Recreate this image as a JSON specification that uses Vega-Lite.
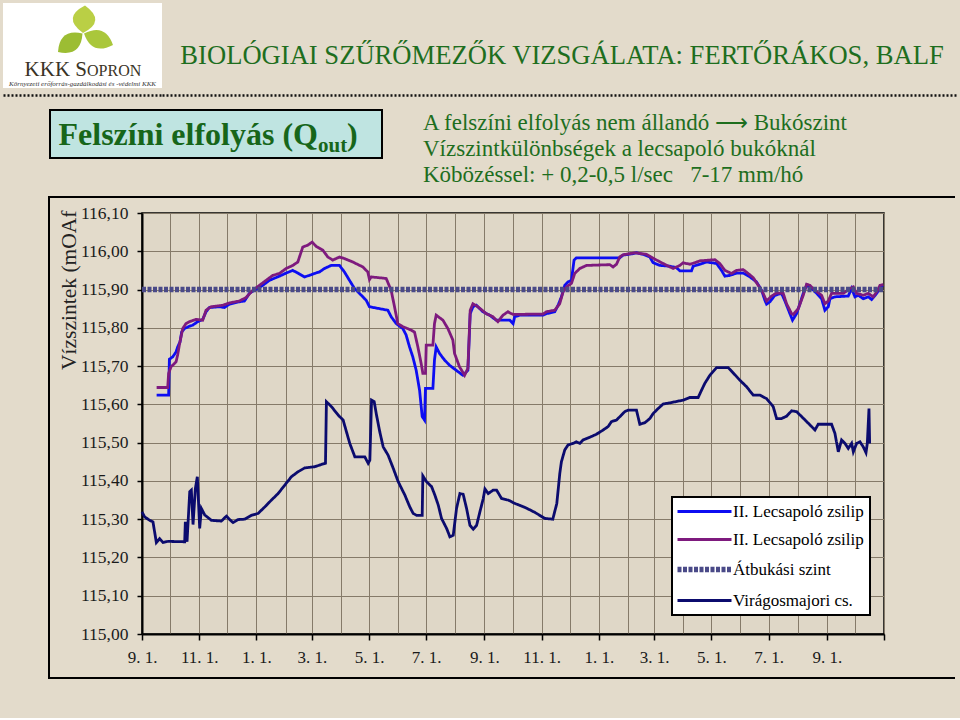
{
"$schema": "https://vega.github.io/schema/vega-lite/v6.json",
"background": "#E3DBCB",
"padding": {"left": 3, "top": 3, "right": 2, "bottom": 0},
"config": {"view": {"stroke": null}, "font": "Liberation Serif", "concat": {"spacing": 0}},
"spacing": 0,
"vconcat": [
 {"hconcat": [
  {"width": 159, "height": 85, "view": {"fill": "#FFFFFF", "stroke": null},
   "data": {"values": [{"kkk": "KKK S", "sopron": "OPRON", "alcim": "Környezeti erőforrás-gazdálkodási és -védelmi KKK"}]},
   "layer": [
    {"mark": {"type": "point", "shape": "M0.01,-0.25 Q0.48,-0.49 0.05,-0.80 Q-0.42,-0.56 0.01,-0.25 Z", "size": 10000, "filled": true, "color": "#BACF45", "opacity": 1, "strokeWidth": 0}},
    {"mark": {"type": "point", "shape": "M0,-0.24 Q-0.029,0.233 -0.49,0.13 Q-0.461,-0.343 0,-0.24 Z", "size": 10000, "filled": true, "color": "#9CBD33", "opacity": 1, "strokeWidth": 0}},
    {"mark": {"type": "point", "shape": "M0.03,-0.24 Q0.187,0.21 0.61,-0.01 Q0.453,-0.46 0.03,-0.24 Z", "size": 10000, "filled": true, "color": "#AAC73B", "opacity": 1, "strokeWidth": 0}},
    {"mark": {"type": "text", "align": "right", "baseline": "alphabetic", "fontSize": 21, "color": "#3A3326", "dx": 4.5, "dy": 30.5}, "encoding": {"text": {"field": "kkk"}}},
    {"mark": {"type": "text", "align": "left", "baseline": "alphabetic", "fontSize": 16, "color": "#3A3326", "dx": 4.5, "dy": 30.5}, "encoding": {"text": {"field": "sopron"}}},
    {"mark": {"type": "text", "align": "center", "baseline": "alphabetic", "fontSize": 7, "fontStyle": "italic", "color": "#333333", "dy": 40}, "encoding": {"text": {"field": "alcim"}}},
    {"data": {"values": [{"a": 0}, {"a": 1}]},
     "mark": {"type": "point", "opacity": 0, "size": 0, "strokeWidth": 0},
     "encoding": {"x": {"field": "a", "type": "quantitative", "scale": {"domain": [0, 1]},
                        "axis": {"labels": false, "ticks": false, "grid": false, "title": null, "domain": true, "domainDash": [2, 2], "domainColor": "#111111", "domainWidth": 2.5, "domainOpacity": 1, "offset": 7}}}}
   ]},
  {"width": 796, "height": 85,
   "layer": [
    {"data": {"values": [{"cim": "BIOLÓGIAI SZŰRŐMEZŐK VIZSGÁLATA: FERTŐRÁKOS, BALF"}]},
     "mark": {"type": "text", "fontSize": 26.6, "color": "#1E6E1E", "baseline": "alphabetic", "dx": 2, "dy": 18},
     "encoding": {"text": {"field": "cim"}}},
    {"data": {"values": [{"a": 0}, {"a": 1}]},
     "mark": {"type": "point", "opacity": 0, "size": 0, "strokeWidth": 0},
     "encoding": {"x": {"field": "a", "type": "quantitative", "scale": {"domain": [0, 1]},
                        "axis": {"labels": false, "ticks": false, "grid": false, "title": null, "domain": true, "domainDash": [2, 2], "domainColor": "#111111", "domainWidth": 2.5, "domainOpacity": 1, "offset": 7}}}}
   ]}
 ], "spacing": 0, "bounds": "flush"},
 {"width": 1, "height": 14, "data": {"values": [{}]}, "mark": {"type": "point", "opacity": 0, "size": 0, "strokeWidth": 0}},
 {"hconcat": [
  {"width": 47, "height": 1, "data": {"values": [{}]}, "mark": {"type": "point", "opacity": 0, "size": 0, "strokeWidth": 0}},
  {"width": 332, "height": 48, "view": {"fill": "#BFE4E1", "stroke": "#000000", "strokeWidth": 2},
   "data": {"values": [{"fo": "Felszíni elfolyás (Q", "al": "out", "zar": ")"}]},
   "layer": [
    {"mark": {"type": "text", "align": "right", "baseline": "alphabetic", "fontSize": 32, "fontWeight": "bold", "color": "#17661A", "dx": 102, "dy": 11}, "encoding": {"text": {"field": "fo"}}},
    {"mark": {"type": "text", "align": "left", "baseline": "alphabetic", "fontSize": 21, "fontWeight": "bold", "color": "#17661A", "dx": 102, "dy": 18}, "encoding": {"text": {"field": "al"}}},
    {"mark": {"type": "text", "align": "left", "baseline": "alphabetic", "fontSize": 32, "fontWeight": "bold", "color": "#17661A", "dx": 131, "dy": 11}, "encoding": {"text": {"field": "zar"}}}
   ]},
  {"width": 40, "height": 1, "data": {"values": [{}]}, "mark": {"type": "point", "opacity": 0, "size": 0, "strokeWidth": 0}},
  {"width": 2, "height": 86,
   "data": {"values": [
    {"sor": 1, "szoveg": "A felszíni elfolyás nem állandó ⟶ Bukószint"},
    {"sor": 2, "szoveg": "Vízszintkülönbségek a lecsapoló bukóknál"},
    {"sor": 3, "szoveg": "Köbözéssel: + 0,2-0,5 l/sec\u00a0\u00a0\u00a07-17 mm/hó"}]},
   "mark": {"type": "text", "align": "left", "baseline": "alphabetic", "fontSize": 23, "color": "#1E6E1E", "dy": 7},
   "encoding": {"y": {"field": "sor", "type": "ordinal", "axis": null, "scale": {"type": "point", "range": [13, 65], "padding": 0}}, "text": {"field": "szoveg"}}}
 ], "spacing": 0, "bounds": "flush"},
 {"hconcat": [
  {"width": 45, "height": 1, "data": {"values": [{}]}, "mark": {"type": "point", "opacity": 0, "size": 0, "strokeWidth": 0}},
  {"vconcat": [
   {"width": 907, "height": 2, "view": {"fill": "#000000", "stroke": null}, "data": {"values": [{}]}, "mark": {"type": "point", "opacity": 0, "size": 0, "strokeWidth": 0}},
   {"hconcat": [
    {"width": 2, "height": 479, "view": {"fill": "#000000", "stroke": null}, "data": {"values": [{}]}, "mark": {"type": "point", "opacity": 0, "size": 0, "strokeWidth": 0}},
    {"width": 7, "height": 1, "data": {"values": [{}]}, "mark": {"type": "point", "opacity": 0, "size": 0, "strokeWidth": 0}},
    {"vconcat": [
     {"width": 1, "height": 15, "data": {"values": [{}]}, "mark": {"type": "point", "opacity": 0, "size": 0, "strokeWidth": 0}},
     {"width": 742, "height": 421,
      "view": {"fill": "#DFD7C7", "stroke": "#000000", "strokeWidth": 1.5},
      "layer": [
       {"data": {"values": [
{"sorozat":"II. Lecsapoló zsilip","nap":15.6,"szint":115.624},{"sorozat":"II. Lecsapoló zsilip","nap":28.4,"szint":115.624},{"sorozat":"II. Lecsapoló zsilip","nap":29.2,"szint":115.718},{"sorozat":"II. Lecsapoló zsilip","nap":32.7,"szint":115.724},{"sorozat":"II. Lecsapoló zsilip","nap":36.3,"szint":115.737},{"sorozat":"II. Lecsapoló zsilip","nap":38.0,"szint":115.750},{"sorozat":"II. Lecsapoló zsilip","nap":40.5,"szint":115.763},{"sorozat":"II. Lecsapoló zsilip","nap":42.3,"szint":115.789},{"sorozat":"II. Lecsapoló zsilip","nap":45.2,"szint":115.798},{"sorozat":"II. Lecsapoló zsilip","nap":50.5,"szint":115.804},{"sorozat":"II. Lecsapoló zsilip","nap":54.1,"szint":115.807},{"sorozat":"II. Lecsapoló zsilip","nap":59.4,"szint":115.816},{"sorozat":"II. Lecsapoló zsilip","nap":64.7,"szint":115.822},{"sorozat":"II. Lecsapoló zsilip","nap":68.3,"szint":115.842},{"sorozat":"II. Lecsapoló zsilip","nap":71.8,"szint":115.853},{"sorozat":"II. Lecsapoló zsilip","nap":82.5,"szint":115.855},{"sorozat":"II. Lecsapoló zsilip","nap":87.8,"szint":115.853},{"sorozat":"II. Lecsapoló zsilip","nap":93.2,"szint":115.862},{"sorozat":"II. Lecsapoló zsilip","nap":103.8,"szint":115.868},{"sorozat":"II. Lecsapoló zsilip","nap":109.2,"szint":115.870},{"sorozat":"II. Lecsapoló zsilip","nap":114.5,"szint":115.890},{"sorozat":"II. Lecsapoló zsilip","nap":119.8,"szint":115.898},{"sorozat":"II. Lecsapoló zsilip","nap":128.7,"szint":115.911},{"sorozat":"II. Lecsapoló zsilip","nap":135.8,"szint":115.924},{"sorozat":"II. Lecsapoló zsilip","nap":146.5,"szint":115.935},{"sorozat":"II. Lecsapoló zsilip","nap":153.6,"szint":115.943},{"sorozat":"II. Lecsapoló zsilip","nap":160.7,"szint":115.950},{"sorozat":"II. Lecsapoló zsilip","nap":166.1,"szint":115.943},{"sorozat":"II. Lecsapoló zsilip","nap":173.2,"szint":115.933},{"sorozat":"II. Lecsapoló zsilip","nap":178.5,"szint":115.937},{"sorozat":"II. Lecsapoló zsilip","nap":183.8,"szint":115.942},{"sorozat":"II. Lecsapoló zsilip","nap":189.2,"szint":115.946},{"sorozat":"II. Lecsapoló zsilip","nap":194.5,"szint":115.955},{"sorozat":"II. Lecsapoló zsilip","nap":198.1,"szint":115.959},{"sorozat":"II. Lecsapoló zsilip","nap":201.6,"szint":115.963},{"sorozat":"II. Lecsapoló zsilip","nap":210.5,"szint":115.963},{"sorozat":"II. Lecsapoló zsilip","nap":215.8,"szint":115.946},{"sorozat":"II. Lecsapoló zsilip","nap":221.2,"szint":115.924},{"sorozat":"II. Lecsapoló zsilip","nap":226.5,"szint":115.903},{"sorozat":"II. Lecsapoló zsilip","nap":231.8,"szint":115.890},{"sorozat":"II. Lecsapoló zsilip","nap":239.0,"szint":115.872},{"sorozat":"II. Lecsapoló zsilip","nap":242.5,"szint":115.855},{"sorozat":"II. Lecsapoló zsilip","nap":253.2,"szint":115.850},{"sorozat":"II. Lecsapoló zsilip","nap":262.1,"szint":115.846},{"sorozat":"II. Lecsapoló zsilip","nap":265.6,"szint":115.829},{"sorozat":"II. Lecsapoló zsilip","nap":271.0,"szint":115.811},{"sorozat":"II. Lecsapoló zsilip","nap":278.1,"szint":115.798},{"sorozat":"II. Lecsapoló zsilip","nap":281.6,"szint":115.781},{"sorozat":"II. Lecsapoló zsilip","nap":285.2,"szint":115.750},{"sorozat":"II. Lecsapoló zsilip","nap":288.7,"szint":115.724},{"sorozat":"II. Lecsapoló zsilip","nap":292.3,"szint":115.689},{"sorozat":"II. Lecsapoló zsilip","nap":295.9,"szint":115.637},{"sorozat":"II. Lecsapoló zsilip","nap":298.7,"szint":115.568},{"sorozat":"II. Lecsapoló zsilip","nap":301.2,"szint":115.559},{"sorozat":"II. Lecsapoló zsilip","nap":302.2,"szint":115.642},{"sorozat":"II. Lecsapoló zsilip","nap":310.1,"szint":115.642},{"sorozat":"II. Lecsapoló zsilip","nap":311.8,"szint":115.716},{"sorozat":"II. Lecsapoló zsilip","nap":313.6,"szint":115.750},{"sorozat":"II. Lecsapoló zsilip","nap":317.2,"szint":115.733},{"sorozat":"II. Lecsapoló zsilip","nap":322.5,"szint":115.716},{"sorozat":"II. Lecsapoló zsilip","nap":327.9,"szint":115.702},{"sorozat":"II. Lecsapoló zsilip","nap":335.0,"szint":115.689},{"sorozat":"II. Lecsapoló zsilip","nap":342.1,"szint":115.676},{"sorozat":"II. Lecsapoló zsilip","nap":347.4,"szint":115.689},{"sorozat":"II. Lecsapoló zsilip","nap":349.9,"szint":115.837},{"sorozat":"II. Lecsapoló zsilip","nap":352.8,"szint":115.855},{"sorozat":"II. Lecsapoló zsilip","nap":356.3,"szint":115.859},{"sorozat":"II. Lecsapoló zsilip","nap":363.4,"szint":115.842},{"sorozat":"II. Lecsapoló zsilip","nap":370.5,"szint":115.833},{"sorozat":"II. Lecsapoló zsilip","nap":377.6,"szint":115.820},{"sorozat":"II. Lecsapoló zsilip","nap":388.3,"szint":115.820},{"sorozat":"II. Lecsapoló zsilip","nap":392.0,"szint":115.820},{"sorozat":"II. Lecsapoló zsilip","nap":395.6,"szint":115.811},{"sorozat":"II. Lecsapoló zsilip","nap":397.3,"szint":115.829},{"sorozat":"II. Lecsapoló zsilip","nap":402.7,"szint":115.833},{"sorozat":"II. Lecsapoló zsilip","nap":427.6,"szint":115.833},{"sorozat":"II. Lecsapoló zsilip","nap":431.1,"szint":115.837},{"sorozat":"II. Lecsapoló zsilip","nap":440.0,"szint":115.842},{"sorozat":"II. Lecsapoló zsilip","nap":443.6,"szint":115.859},{"sorozat":"II. Lecsapoló zsilip","nap":447.1,"szint":115.881},{"sorozat":"II. Lecsapoló zsilip","nap":450.7,"szint":115.911},{"sorozat":"II. Lecsapoló zsilip","nap":454.2,"szint":115.920},{"sorozat":"II. Lecsapoló zsilip","nap":457.8,"szint":115.924},{"sorozat":"II. Lecsapoló zsilip","nap":460.6,"szint":115.977},{"sorozat":"II. Lecsapoló zsilip","nap":463.1,"szint":115.983},{"sorozat":"II. Lecsapoló zsilip","nap":509.3,"szint":115.983},{"sorozat":"II. Lecsapoló zsilip","nap":512.9,"szint":115.990},{"sorozat":"II. Lecsapoló zsilip","nap":523.6,"szint":115.994},{"sorozat":"II. Lecsapoló zsilip","nap":527.1,"szint":115.996},{"sorozat":"II. Lecsapoló zsilip","nap":534.2,"szint":115.992},{"sorozat":"II. Lecsapoló zsilip","nap":541.4,"szint":115.985},{"sorozat":"II. Lecsapoló zsilip","nap":544.9,"szint":115.970},{"sorozat":"II. Lecsapoló zsilip","nap":552.0,"szint":115.963},{"sorozat":"II. Lecsapoló zsilip","nap":562.7,"szint":115.961},{"sorozat":"II. Lecsapoló zsilip","nap":569.8,"szint":115.957},{"sorozat":"II. Lecsapoló zsilip","nap":573.4,"szint":115.949},{"sorozat":"II. Lecsapoló zsilip","nap":585.8,"szint":115.949},{"sorozat":"II. Lecsapoló zsilip","nap":587.6,"szint":115.961},{"sorozat":"II. Lecsapoló zsilip","nap":594.7,"szint":115.966},{"sorozat":"II. Lecsapoló zsilip","nap":601.8,"szint":115.972},{"sorozat":"II. Lecsapoló zsilip","nap":612.5,"szint":115.968},{"sorozat":"II. Lecsapoló zsilip","nap":617.8,"szint":115.950},{"sorozat":"II. Lecsapoló zsilip","nap":621.4,"szint":115.935},{"sorozat":"II. Lecsapoló zsilip","nap":626.7,"szint":115.937},{"sorozat":"II. Lecsapoló zsilip","nap":633.8,"szint":115.943},{"sorozat":"II. Lecsapoló zsilip","nap":640.9,"szint":115.943},{"sorozat":"II. Lecsapoló zsilip","nap":648.0,"szint":115.933},{"sorozat":"II. Lecsapoló zsilip","nap":655.1,"szint":115.920},{"sorozat":"II. Lecsapoló zsilip","nap":660.5,"szint":115.898},{"sorozat":"II. Lecsapoló zsilip","nap":664.0,"szint":115.872},{"sorozat":"II. Lecsapoló zsilip","nap":665.8,"szint":115.862},{"sorozat":"II. Lecsapoló zsilip","nap":669.4,"szint":115.868},{"sorozat":"II. Lecsapoló zsilip","nap":674.7,"szint":115.885},{"sorozat":"II. Lecsapoló zsilip","nap":681.8,"szint":115.890},{"sorozat":"II. Lecsapoló zsilip","nap":685.4,"szint":115.870},{"sorozat":"II. Lecsapoló zsilip","nap":690.7,"szint":115.837},{"sorozat":"II. Lecsapoló zsilip","nap":693.5,"szint":115.820},{"sorozat":"II. Lecsapoló zsilip","nap":697.8,"szint":115.837},{"sorozat":"II. Lecsapoló zsilip","nap":701.4,"szint":115.863},{"sorozat":"II. Lecsapoló zsilip","nap":704.9,"szint":115.890},{"sorozat":"II. Lecsapoló zsilip","nap":708.5,"szint":115.911},{"sorozat":"II. Lecsapoló zsilip","nap":713.8,"szint":115.903},{"sorozat":"II. Lecsapoló zsilip","nap":719.2,"szint":115.890},{"sorozat":"II. Lecsapoló zsilip","nap":724.5,"szint":115.876},{"sorozat":"II. Lecsapoló zsilip","nap":728.0,"szint":115.846},{"sorozat":"II. Lecsapoló zsilip","nap":731.6,"szint":115.855},{"sorozat":"II. Lecsapoló zsilip","nap":733.4,"szint":115.876},{"sorozat":"II. Lecsapoló zsilip","nap":738.7,"szint":115.881},{"sorozat":"II. Lecsapoló zsilip","nap":752.9,"szint":115.883},{"sorozat":"II. Lecsapoló zsilip","nap":756.5,"szint":115.903},{"sorozat":"II. Lecsapoló zsilip","nap":760.0,"szint":115.881},{"sorozat":"II. Lecsapoló zsilip","nap":763.6,"szint":115.885},{"sorozat":"II. Lecsapoló zsilip","nap":768.9,"szint":115.876},{"sorozat":"II. Lecsapoló zsilip","nap":774.3,"szint":115.881},{"sorozat":"II. Lecsapoló zsilip","nap":777.8,"szint":115.874},{"sorozat":"II. Lecsapoló zsilip","nap":783.2,"szint":115.890},{"sorozat":"II. Lecsapoló zsilip","nap":786.7,"szint":115.903},{"sorozat":"II. Lecsapoló zsilip","nap":789.5,"szint":115.911},
{"sorozat":"II. Lecsapoló zsilip ","nap":15.6,"szint":115.644},{"sorozat":"II. Lecsapoló zsilip ","nap":27.4,"szint":115.644},{"sorozat":"II. Lecsapoló zsilip ","nap":28.4,"szint":115.681},{"sorozat":"II. Lecsapoló zsilip ","nap":30.9,"szint":115.698},{"sorozat":"II. Lecsapoló zsilip ","nap":36.3,"szint":115.711},{"sorozat":"II. Lecsapoló zsilip ","nap":38.0,"szint":115.729},{"sorozat":"II. Lecsapoló zsilip ","nap":39.8,"szint":115.755},{"sorozat":"II. Lecsapoló zsilip ","nap":43.4,"szint":115.798},{"sorozat":"II. Lecsapoló zsilip ","nap":46.9,"szint":115.811},{"sorozat":"II. Lecsapoló zsilip ","nap":50.5,"szint":115.816},{"sorozat":"II. Lecsapoló zsilip ","nap":57.6,"szint":115.822},{"sorozat":"II. Lecsapoló zsilip ","nap":64.7,"szint":115.820},{"sorozat":"II. Lecsapoló zsilip ","nap":68.3,"szint":115.846},{"sorozat":"II. Lecsapoló zsilip ","nap":73.6,"szint":115.855},{"sorozat":"II. Lecsapoló zsilip ","nap":86.1,"szint":115.859},{"sorozat":"II. Lecsapoló zsilip ","nap":93.2,"szint":115.865},{"sorozat":"II. Lecsapoló zsilip ","nap":103.8,"szint":115.870},{"sorozat":"II. Lecsapoló zsilip ","nap":110.9,"szint":115.879},{"sorozat":"II. Lecsapoló zsilip ","nap":118.1,"szint":115.898},{"sorozat":"II. Lecsapoló zsilip ","nap":125.2,"szint":115.911},{"sorozat":"II. Lecsapoló zsilip ","nap":132.3,"szint":115.924},{"sorozat":"II. Lecsapoló zsilip ","nap":139.4,"szint":115.937},{"sorozat":"II. Lecsapoló zsilip ","nap":146.5,"szint":115.942},{"sorozat":"II. Lecsapoló zsilip ","nap":153.6,"szint":115.955},{"sorozat":"II. Lecsapoló zsilip ","nap":160.7,"szint":115.963},{"sorozat":"II. Lecsapoló zsilip ","nap":166.1,"szint":115.972},{"sorozat":"II. Lecsapoló zsilip ","nap":171.4,"szint":116.011},{"sorozat":"II. Lecsapoló zsilip ","nap":176.7,"szint":116.016},{"sorozat":"II. Lecsapoló zsilip ","nap":181.4,"szint":116.024},{"sorozat":"II. Lecsapoló zsilip ","nap":185.6,"szint":116.013},{"sorozat":"II. Lecsapoló zsilip ","nap":192.7,"szint":116.003},{"sorozat":"II. Lecsapoló zsilip ","nap":198.1,"szint":115.985},{"sorozat":"II. Lecsapoló zsilip ","nap":203.4,"szint":115.977},{"sorozat":"II. Lecsapoló zsilip ","nap":210.5,"szint":115.985},{"sorozat":"II. Lecsapoló zsilip ","nap":215.8,"szint":115.981},{"sorozat":"II. Lecsapoló zsilip ","nap":224.7,"szint":115.972},{"sorozat":"II. Lecsapoló zsilip ","nap":235.4,"szint":115.959},{"sorozat":"II. Lecsapoló zsilip ","nap":240.7,"szint":115.946},{"sorozat":"II. Lecsapoló zsilip ","nap":242.5,"szint":115.926},{"sorozat":"II. Lecsapoló zsilip ","nap":244.3,"szint":115.933},{"sorozat":"II. Lecsapoló zsilip ","nap":260.3,"szint":115.929},{"sorozat":"II. Lecsapoló zsilip ","nap":265.6,"szint":115.898},{"sorozat":"II. Lecsapoló zsilip ","nap":269.2,"szint":115.855},{"sorozat":"II. Lecsapoló zsilip ","nap":272.7,"szint":115.811},{"sorozat":"II. Lecsapoló zsilip ","nap":278.1,"szint":115.803},{"sorozat":"II. Lecsapoló zsilip ","nap":287.0,"szint":115.794},{"sorozat":"II. Lecsapoló zsilip ","nap":290.5,"szint":115.789},{"sorozat":"II. Lecsapoló zsilip ","nap":294.1,"szint":115.750},{"sorozat":"II. Lecsapoló zsilip ","nap":297.6,"szint":115.707},{"sorozat":"II. Lecsapoló zsilip ","nap":299.4,"szint":115.681},{"sorozat":"II. Lecsapoló zsilip ","nap":302.2,"szint":115.681},{"sorozat":"II. Lecsapoló zsilip ","nap":303.0,"szint":115.755},{"sorozat":"II. Lecsapoló zsilip ","nap":310.1,"szint":115.755},{"sorozat":"II. Lecsapoló zsilip ","nap":311.8,"szint":115.811},{"sorozat":"II. Lecsapoló zsilip ","nap":313.6,"szint":115.833},{"sorozat":"II. Lecsapoló zsilip ","nap":320.8,"szint":115.820},{"sorozat":"II. Lecsapoló zsilip ","nap":326.1,"szint":115.798},{"sorozat":"II. Lecsapoló zsilip ","nap":331.4,"szint":115.768},{"sorozat":"II. Lecsapoló zsilip ","nap":333.2,"szint":115.733},{"sorozat":"II. Lecsapoló zsilip ","nap":338.5,"szint":115.698},{"sorozat":"II. Lecsapoló zsilip ","nap":343.9,"szint":115.676},{"sorozat":"II. Lecsapoló zsilip ","nap":347.4,"szint":115.694},{"sorozat":"II. Lecsapoló zsilip ","nap":349.9,"szint":115.846},{"sorozat":"II. Lecsapoló zsilip ","nap":352.8,"szint":115.863},{"sorozat":"II. Lecsapoló zsilip ","nap":358.1,"szint":115.855},{"sorozat":"II. Lecsapoló zsilip ","nap":367.0,"szint":115.837},{"sorozat":"II. Lecsapoló zsilip ","nap":374.1,"szint":115.829},{"sorozat":"II. Lecsapoló zsilip ","nap":379.4,"szint":115.816},{"sorozat":"II. Lecsapoló zsilip ","nap":384.8,"szint":115.833},{"sorozat":"II. Lecsapoló zsilip ","nap":390.1,"szint":115.842},{"sorozat":"II. Lecsapoló zsilip ","nap":392.0,"szint":115.839},{"sorozat":"II. Lecsapoló zsilip ","nap":395.6,"szint":115.835},{"sorozat":"II. Lecsapoló zsilip ","nap":427.6,"szint":115.836},{"sorozat":"II. Lecsapoló zsilip ","nap":431.1,"szint":115.842},{"sorozat":"II. Lecsapoló zsilip ","nap":440.0,"szint":115.846},{"sorozat":"II. Lecsapoló zsilip ","nap":445.3,"szint":115.863},{"sorozat":"II. Lecsapoló zsilip ","nap":448.9,"szint":115.894},{"sorozat":"II. Lecsapoló zsilip ","nap":452.5,"szint":115.907},{"sorozat":"II. Lecsapoló zsilip ","nap":457.8,"szint":115.916},{"sorozat":"II. Lecsapoló zsilip ","nap":461.3,"szint":115.942},{"sorozat":"II. Lecsapoló zsilip ","nap":466.7,"szint":115.955},{"sorozat":"II. Lecsapoló zsilip ","nap":473.8,"szint":115.963},{"sorozat":"II. Lecsapoló zsilip ","nap":498.7,"szint":115.965},{"sorozat":"II. Lecsapoló zsilip ","nap":502.2,"szint":115.959},{"sorozat":"II. Lecsapoló zsilip ","nap":505.8,"szint":115.966},{"sorozat":"II. Lecsapoló zsilip ","nap":509.3,"szint":115.985},{"sorozat":"II. Lecsapoló zsilip ","nap":512.9,"szint":115.991},{"sorozat":"II. Lecsapoló zsilip ","nap":525.3,"szint":115.996},{"sorozat":"II. Lecsapoló zsilip ","nap":537.8,"szint":115.992},{"sorozat":"II. Lecsapoló zsilip ","nap":541.4,"szint":115.987},{"sorozat":"II. Lecsapoló zsilip ","nap":548.5,"szint":115.977},{"sorozat":"II. Lecsapoló zsilip ","nap":555.6,"szint":115.968},{"sorozat":"II. Lecsapoló zsilip ","nap":566.2,"szint":115.955},{"sorozat":"II. Lecsapoló zsilip ","nap":573.4,"szint":115.963},{"sorozat":"II. Lecsapoló zsilip ","nap":576.9,"szint":115.970},{"sorozat":"II. Lecsapoló zsilip ","nap":584.0,"szint":115.966},{"sorozat":"II. Lecsapoló zsilip ","nap":589.3,"szint":115.970},{"sorozat":"II. Lecsapoló zsilip ","nap":594.7,"szint":115.975},{"sorozat":"II. Lecsapoló zsilip ","nap":610.7,"szint":115.978},{"sorozat":"II. Lecsapoló zsilip ","nap":616.0,"szint":115.968},{"sorozat":"II. Lecsapoló zsilip ","nap":621.4,"szint":115.950},{"sorozat":"II. Lecsapoló zsilip ","nap":628.5,"szint":115.942},{"sorozat":"II. Lecsapoló zsilip ","nap":633.8,"szint":115.950},{"sorozat":"II. Lecsapoló zsilip ","nap":640.9,"szint":115.952},{"sorozat":"II. Lecsapoló zsilip ","nap":646.2,"szint":115.942},{"sorozat":"II. Lecsapoló zsilip ","nap":651.6,"szint":115.931},{"sorozat":"II. Lecsapoló zsilip ","nap":656.9,"szint":115.911},{"sorozat":"II. Lecsapoló zsilip ","nap":662.2,"szint":115.890},{"sorozat":"II. Lecsapoló zsilip ","nap":665.8,"szint":115.870},{"sorozat":"II. Lecsapoló zsilip ","nap":671.1,"szint":115.883},{"sorozat":"II. Lecsapoló zsilip ","nap":676.5,"szint":115.891},{"sorozat":"II. Lecsapoló zsilip ","nap":683.6,"szint":115.890},{"sorozat":"II. Lecsapoló zsilip ","nap":687.1,"szint":115.863},{"sorozat":"II. Lecsapoló zsilip ","nap":692.5,"szint":115.837},{"sorozat":"II. Lecsapoló zsilip ","nap":694.3,"szint":115.835},{"sorozat":"II. Lecsapoló zsilip ","nap":699.6,"szint":115.850},{"sorozat":"II. Lecsapoló zsilip ","nap":704.9,"szint":115.885},{"sorozat":"II. Lecsapoló zsilip ","nap":708.5,"szint":115.914},{"sorozat":"II. Lecsapoló zsilip ","nap":712.0,"szint":115.911},{"sorozat":"II. Lecsapoló zsilip ","nap":717.4,"szint":115.898},{"sorozat":"II. Lecsapoló zsilip ","nap":724.5,"szint":115.885},{"sorozat":"II. Lecsapoló zsilip ","nap":728.0,"szint":115.863},{"sorozat":"II. Lecsapoló zsilip ","nap":731.6,"szint":115.870},{"sorozat":"II. Lecsapoló zsilip ","nap":735.1,"szint":115.890},{"sorozat":"II. Lecsapoló zsilip ","nap":747.6,"szint":115.890},{"sorozat":"II. Lecsapoló zsilip ","nap":754.7,"szint":115.903},{"sorozat":"II. Lecsapoló zsilip ","nap":758.3,"szint":115.907},{"sorozat":"II. Lecsapoló zsilip ","nap":761.8,"szint":115.890},{"sorozat":"II. Lecsapoló zsilip ","nap":768.9,"szint":115.885},{"sorozat":"II. Lecsapoló zsilip ","nap":774.3,"szint":115.890},{"sorozat":"II. Lecsapoló zsilip ","nap":779.6,"szint":115.881},{"sorozat":"II. Lecsapoló zsilip ","nap":783.2,"szint":115.894},{"sorozat":"II. Lecsapoló zsilip ","nap":786.7,"szint":115.911},{"sorozat":"II. Lecsapoló zsilip ","nap":790.3,"szint":115.913},
{"sorozat":"Átbukási szint","nap":0,"szint":115.9},{"sorozat":"Átbukási szint","nap":791,"szint":115.9},
{"sorozat":"Virágosmajori cs.","nap":0.0,"szint":115.319},{"sorozat":"Virágosmajori cs.","nap":2.8,"szint":115.306},{"sorozat":"Virágosmajori cs.","nap":8.2,"szint":115.297},{"sorozat":"Virágosmajori cs.","nap":11.7,"szint":115.293},{"sorozat":"Virágosmajori cs.","nap":15.3,"szint":115.239},{"sorozat":"Virágosmajori cs.","nap":18.8,"szint":115.249},{"sorozat":"Virágosmajori cs.","nap":22.4,"szint":115.239},{"sorozat":"Virágosmajori cs.","nap":27.7,"szint":115.242},{"sorozat":"Virágosmajori cs.","nap":45.5,"szint":115.241},{"sorozat":"Virágosmajori cs.","nap":46.2,"szint":115.293},{"sorozat":"Virágosmajori cs.","nap":48.0,"szint":115.241},{"sorozat":"Virágosmajori cs.","nap":50.9,"szint":115.372},{"sorozat":"Virágosmajori cs.","nap":52.6,"szint":115.376},{"sorozat":"Virágosmajori cs.","nap":54.4,"szint":115.286},{"sorozat":"Virágosmajori cs.","nap":56.9,"szint":115.380},{"sorozat":"Virágosmajori cs.","nap":59.0,"szint":115.411},{"sorozat":"Virágosmajori cs.","nap":61.5,"szint":115.276},{"sorozat":"Virágosmajori cs.","nap":63.3,"szint":115.328},{"sorozat":"Virágosmajori cs.","nap":66.9,"szint":115.311},{"sorozat":"Virágosmajori cs.","nap":74.0,"szint":115.297},{"sorozat":"Virágosmajori cs.","nap":84.6,"szint":115.295},{"sorozat":"Virágosmajori cs.","nap":90.0,"szint":115.308},{"sorozat":"Virágosmajori cs.","nap":93.5,"szint":115.299},{"sorozat":"Virágosmajori cs.","nap":97.1,"szint":115.291},{"sorozat":"Virágosmajori cs.","nap":102.4,"szint":115.299},{"sorozat":"Virágosmajori cs.","nap":109.5,"szint":115.300},{"sorozat":"Virágosmajori cs.","nap":116.6,"szint":115.310},{"sorozat":"Virágosmajori cs.","nap":123.7,"szint":115.315},{"sorozat":"Virágosmajori cs.","nap":130.9,"szint":115.332},{"sorozat":"Virágosmajori cs.","nap":138.0,"szint":115.350},{"sorozat":"Virágosmajori cs.","nap":145.1,"szint":115.367},{"sorozat":"Virágosmajori cs.","nap":152.2,"szint":115.389},{"sorozat":"Virágosmajori cs.","nap":159.3,"szint":115.411},{"sorozat":"Virágosmajori cs.","nap":166.4,"szint":115.424},{"sorozat":"Virágosmajori cs.","nap":173.5,"szint":115.434},{"sorozat":"Virágosmajori cs.","nap":184.2,"szint":115.437},{"sorozat":"Virágosmajori cs.","nap":191.3,"szint":115.443},{"sorozat":"Virágosmajori cs.","nap":195.6,"szint":115.446},{"sorozat":"Virágosmajori cs.","nap":196.6,"szint":115.607},{"sorozat":"Virágosmajori cs.","nap":202.0,"szint":115.594},{"sorozat":"Virágosmajori cs.","nap":209.1,"szint":115.572},{"sorozat":"Virágosmajori cs.","nap":214.4,"szint":115.559},{"sorozat":"Virágosmajori cs.","nap":218.0,"szint":115.528},{"sorozat":"Virágosmajori cs.","nap":221.5,"szint":115.498},{"sorozat":"Virágosmajori cs.","nap":226.9,"szint":115.463},{"sorozat":"Virágosmajori cs.","nap":237.5,"szint":115.463},{"sorozat":"Virágosmajori cs.","nap":241.1,"szint":115.446},{"sorozat":"Virágosmajori cs.","nap":242.9,"szint":115.454},{"sorozat":"Virágosmajori cs.","nap":244.7,"szint":115.611},{"sorozat":"Virágosmajori cs.","nap":247.5,"szint":115.607},{"sorozat":"Virágosmajori cs.","nap":250.0,"szint":115.572},{"sorozat":"Virágosmajori cs.","nap":253.5,"szint":115.528},{"sorozat":"Virágosmajori cs.","nap":257.1,"szint":115.489},{"sorozat":"Virágosmajori cs.","nap":262.4,"szint":115.467},{"sorozat":"Virágosmajori cs.","nap":267.8,"szint":115.433},{"sorozat":"Virágosmajori cs.","nap":273.1,"szint":115.398},{"sorozat":"Virágosmajori cs.","nap":280.2,"szint":115.363},{"sorozat":"Virágosmajori cs.","nap":285.5,"szint":115.332},{"sorozat":"Virágosmajori cs.","nap":289.1,"szint":115.315},{"sorozat":"Virágosmajori cs.","nap":292.7,"szint":115.310},{"sorozat":"Virágosmajori cs.","nap":298.7,"szint":115.310},{"sorozat":"Virágosmajori cs.","nap":299.4,"szint":115.413},{"sorozat":"Virágosmajori cs.","nap":303.3,"szint":115.398},{"sorozat":"Virágosmajori cs.","nap":308.7,"szint":115.385},{"sorozat":"Virágosmajori cs.","nap":312.2,"szint":115.363},{"sorozat":"Virágosmajori cs.","nap":315.8,"szint":115.337},{"sorozat":"Virágosmajori cs.","nap":319.3,"szint":115.302},{"sorozat":"Virágosmajori cs.","nap":324.7,"szint":115.276},{"sorozat":"Virágosmajori cs.","nap":328.2,"szint":115.254},{"sorozat":"Virágosmajori cs.","nap":331.8,"szint":115.258},{"sorozat":"Virágosmajori cs.","nap":335.3,"szint":115.328},{"sorozat":"Virágosmajori cs.","nap":338.9,"szint":115.367},{"sorozat":"Virágosmajori cs.","nap":342.4,"szint":115.365},{"sorozat":"Virágosmajori cs.","nap":346.0,"szint":115.328},{"sorozat":"Virágosmajori cs.","nap":349.6,"szint":115.284},{"sorozat":"Virágosmajori cs.","nap":353.1,"szint":115.274},{"sorozat":"Virágosmajori cs.","nap":356.7,"szint":115.284},{"sorozat":"Virágosmajori cs.","nap":360.2,"szint":115.319},{"sorozat":"Virágosmajori cs.","nap":363.8,"szint":115.354},{"sorozat":"Virágosmajori cs.","nap":365.6,"szint":115.379},{"sorozat":"Virágosmajori cs.","nap":369.1,"szint":115.367},{"sorozat":"Virágosmajori cs.","nap":374.4,"szint":115.376},{"sorozat":"Virágosmajori cs.","nap":378.0,"szint":115.376},{"sorozat":"Virágosmajori cs.","nap":383.3,"szint":115.354},{"sorozat":"Virágosmajori cs.","nap":390.4,"szint":115.350},{"sorozat":"Virágosmajori cs.","nap":397.6,"szint":115.341},{"sorozat":"Virágosmajori cs.","nap":408.0,"szint":115.331},{"sorozat":"Virágosmajori cs.","nap":418.7,"szint":115.318},{"sorozat":"Virágosmajori cs.","nap":429.3,"szint":115.302},{"sorozat":"Virágosmajori cs.","nap":437.9,"szint":115.300},{"sorozat":"Virágosmajori cs.","nap":442.2,"szint":115.341},{"sorozat":"Virágosmajori cs.","nap":445.4,"szint":115.420},{"sorozat":"Virágosmajori cs.","nap":447.1,"szint":115.450},{"sorozat":"Virágosmajori cs.","nap":450.7,"szint":115.481},{"sorozat":"Virágosmajori cs.","nap":454.2,"szint":115.494},{"sorozat":"Virágosmajori cs.","nap":459.6,"szint":115.498},{"sorozat":"Virágosmajori cs.","nap":463.1,"szint":115.502},{"sorozat":"Virágosmajori cs.","nap":466.7,"szint":115.498},{"sorozat":"Virágosmajori cs.","nap":470.2,"szint":115.507},{"sorozat":"Virágosmajori cs.","nap":477.3,"szint":115.514},{"sorozat":"Virágosmajori cs.","nap":484.5,"szint":115.522},{"sorozat":"Virágosmajori cs.","nap":491.6,"szint":115.533},{"sorozat":"Virágosmajori cs.","nap":496.9,"szint":115.542},{"sorozat":"Virágosmajori cs.","nap":500.5,"szint":115.555},{"sorozat":"Virágosmajori cs.","nap":505.8,"szint":115.559},{"sorozat":"Virágosmajori cs.","nap":511.1,"szint":115.572},{"sorozat":"Virágosmajori cs.","nap":514.7,"szint":115.581},{"sorozat":"Virágosmajori cs.","nap":518.2,"szint":115.585},{"sorozat":"Virágosmajori cs.","nap":527.1,"szint":115.585},{"sorozat":"Virágosmajori cs.","nap":530.7,"szint":115.548},{"sorozat":"Virágosmajori cs.","nap":536.0,"szint":115.552},{"sorozat":"Virágosmajori cs.","nap":541.4,"szint":115.563},{"sorozat":"Virágosmajori cs.","nap":544.9,"szint":115.576},{"sorozat":"Virágosmajori cs.","nap":550.2,"szint":115.589},{"sorozat":"Virágosmajori cs.","nap":555.6,"szint":115.601},{"sorozat":"Virágosmajori cs.","nap":562.7,"szint":115.604},{"sorozat":"Virágosmajori cs.","nap":576.9,"szint":115.611},{"sorozat":"Virágosmajori cs.","nap":584.0,"szint":115.618},{"sorozat":"Virágosmajori cs.","nap":592.9,"szint":115.618},{"sorozat":"Virágosmajori cs.","nap":596.5,"szint":115.637},{"sorozat":"Virágosmajori cs.","nap":600.0,"szint":115.655},{"sorozat":"Virágosmajori cs.","nap":605.4,"szint":115.676},{"sorozat":"Virágosmajori cs.","nap":612.5,"szint":115.696},{"sorozat":"Virágosmajori cs.","nap":624.9,"szint":115.696},{"sorozat":"Virágosmajori cs.","nap":630.3,"szint":115.682},{"sorozat":"Virágosmajori cs.","nap":637.4,"szint":115.663},{"sorozat":"Virágosmajori cs.","nap":644.5,"szint":115.646},{"sorozat":"Virágosmajori cs.","nap":651.6,"szint":115.624},{"sorozat":"Virágosmajori cs.","nap":658.7,"szint":115.624},{"sorozat":"Virágosmajori cs.","nap":665.8,"szint":115.615},{"sorozat":"Virágosmajori cs.","nap":672.9,"szint":115.594},{"sorozat":"Virágosmajori cs.","nap":676.5,"szint":115.563},{"sorozat":"Virágosmajori cs.","nap":681.8,"szint":115.563},{"sorozat":"Virágosmajori cs.","nap":687.1,"szint":115.569},{"sorozat":"Virágosmajori cs.","nap":692.5,"szint":115.583},{"sorozat":"Virágosmajori cs.","nap":697.8,"szint":115.581},{"sorozat":"Virágosmajori cs.","nap":703.2,"szint":115.568},{"sorozat":"Virágosmajori cs.","nap":708.5,"szint":115.555},{"sorozat":"Virágosmajori cs.","nap":713.8,"szint":115.542},{"sorozat":"Virágosmajori cs.","nap":717.4,"szint":115.533},{"sorozat":"Virágosmajori cs.","nap":720.9,"szint":115.548},{"sorozat":"Virágosmajori cs.","nap":735.1,"szint":115.548},{"sorozat":"Virágosmajori cs.","nap":738.7,"szint":115.524},{"sorozat":"Virágosmajori cs.","nap":742.3,"szint":115.476},{"sorozat":"Virágosmajori cs.","nap":745.8,"szint":115.507},{"sorozat":"Virágosmajori cs.","nap":749.4,"szint":115.498},{"sorozat":"Virágosmajori cs.","nap":752.9,"szint":115.485},{"sorozat":"Virágosmajori cs.","nap":756.5,"szint":115.498},{"sorozat":"Virágosmajori cs.","nap":758.3,"szint":115.476},{"sorozat":"Virágosmajori cs.","nap":761.8,"szint":115.498},{"sorozat":"Virágosmajori cs.","nap":765.4,"szint":115.502},{"sorozat":"Virágosmajori cs.","nap":768.9,"szint":115.489},{"sorozat":"Virágosmajori cs.","nap":771.8,"szint":115.474},{"sorozat":"Virágosmajori cs.","nap":773.2,"szint":115.498},{"sorozat":"Virágosmajori cs.","nap":775.0,"szint":115.589},{"sorozat":"Virágosmajori cs.","nap":775.7,"szint":115.498}
        ]},
        "mark": {"type": "line", "interpolate": "linear"},
        "encoding": {
         "x": {"field": "nap", "type": "quantitative", "scale": {"domain": [0, 791], "nice": false, "zero": false},
               "axis": {"values": [0, 61, 122, 181, 242, 303, 365, 426, 487, 546, 607, 668, 730, 791],
                        "labelExpr": "datum.value >= 791 ? '' : timeFormat(datetime(2008, 8, 1 + datum.value), '%-m. %-d.')",
                        "grid": false, "title": null, "domainColor": "#000000", "domainWidth": 2,
                        "tickColor": "#000000", "tickWidth": 1.5, "tickSize": 6, "labelFontSize": 17,
                        "labelColor": "#1A1A1A", "labelPadding": 9, "labelOverlap": false, "labelFlush": false, "labelBound": false}},
         "y": {"field": "szint", "type": "quantitative", "scale": {"domain": [115, 116.1], "nice": false, "zero": false},
               "axis": {"values": [115, 115.1, 115.2, 115.3, 115.4, 115.5, 115.6, 115.7, 115.8, 115.9, 116, 116.1],
                        "labelExpr": "replace(format(datum.value, '.2f'), '.', ',')",
                        "grid": true, "gridColor": "#857A69", "gridWidth": 1,
                        "domainColor": "#000000", "domainWidth": 2, "tickColor": "#000000", "tickSize": 5, "tickWidth": 1.5,
                        "labelFontSize": 17.5, "labelColor": "#1A1A1A", "labelPadding": 9, "labelOverlap": false, "labelFlush": false,
                        "title": "Vízszintek (mOAf", "titleFontSize": 21.5, "titleFontWeight": "normal", "titleColor": "#222222",
                        "titleAlign": "right", "titleAngle": 270, "titleBaseline": "middle", "titleX": -73, "titleY": -3}},
         "color": {"field": "sorozat", "type": "nominal",
                   "scale": {"domain": ["II. Lecsapoló zsilip", "II. Lecsapoló zsilip ", "Átbukási szint", "Virágosmajori cs."],
                             "range": ["#0D0DF2", "#7E1A7E", "#4A4A88", "#0B0B6E"]},
                   "legend": {"title": null, "orient": "none", "legendX": 669, "legendY": 494,
                              "symbolType": "M-1,0H5", "symbolSize": 324, "labelFontSize": 17, "labelColor": "#000000",
                              "labelOffset": 38, "padding": 6, "rowPadding": 10,
                              "encode": {"legend": {"update": {"fill": {"value": "#FFFFFF"}, "stroke": {"value": "#000000"}, "strokeWidth": {"value": 2}}},
                                         "symbols": {"update": {"strokeWidth": {"signal": "datum.value === 'Átbukási szint' ? 5.5 : 2.8"},
                                                                "strokeDash": {"signal": "datum.value === 'Átbukási szint' ? [4, 1.5] : [1, 0]"}}}}}},
         "strokeDash": {"condition": {"test": "datum.sorozat === 'Átbukási szint'", "value": [4, 1.5]}, "value": [1, 0]},
         "strokeWidth": {"condition": {"test": "datum.sorozat === 'Átbukási szint'", "value": 5.5}, "value": 2.8}
        }},
       {"data": {"values": [{"nap": 0}, {"nap": 791}]},
        "mark": {"type": "point", "opacity": 0, "size": 0, "strokeWidth": 0},
        "encoding": {"x": {"field": "nap", "type": "quantitative",
                           "axis": {"orient": "bottom", "values": [0, 30, 61, 91, 122, 153, 181, 212, 242, 273, 303, 334, 365, 395, 426, 456, 487, 518, 546, 577, 607, 638, 668, 699, 730, 760, 791],
                                    "grid": true, "gridColor": "#857A69", "gridWidth": 1, "labels": false, "ticks": false, "domain": false, "title": null, "minExtent": 0, "maxExtent": 0}}}}
      ],
      "resolve": {"axis": {"x": "independent"}}},
     {"width": 1, "height": 39, "data": {"values": [{}]}, "mark": {"type": "point", "opacity": 0, "size": 0, "strokeWidth": 0}}
    ], "spacing": 0, "bounds": "flush"},
    {"width": 69, "height": 1, "data": {"values": [{}]}, "mark": {"type": "point", "opacity": 0, "size": 0, "strokeWidth": 0}},
    {"width": 2, "height": 479, "view": {"fill": "#000000", "stroke": null}, "data": {"values": [{}]}, "mark": {"type": "point", "opacity": 0, "size": 0, "strokeWidth": 0}}
   ], "spacing": 0},
   {"width": 907, "height": 2, "view": {"fill": "#000000", "stroke": null}, "data": {"values": [{}]}, "mark": {"type": "point", "opacity": 0, "size": 0, "strokeWidth": 0}}
  ], "spacing": 0}
 ], "spacing": 0},
 {"width": 1, "height": 39, "data": {"values": [{}]}, "mark": {"type": "point", "opacity": 0, "size": 0, "strokeWidth": 0}}
]
}
